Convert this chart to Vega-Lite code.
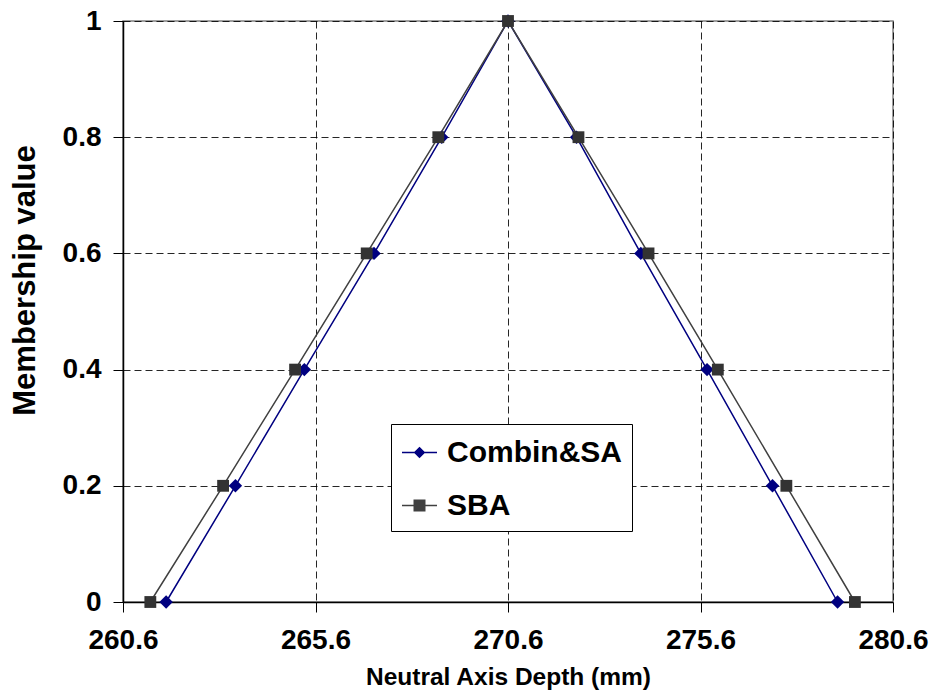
{
  "$schema": "https://vega.github.io/schema/vega-lite/v6.json",
  "width": 770,
  "height": 581,
  "autosize": {"type": "none"},
  "padding": {"left": 123, "top": 21, "right": 44, "bottom": 92},
  "background": "white",
  "config": {
    "font": "Liberation Sans",
    "view": {"stroke": "#808080", "strokeWidth": 1.5},
    "axis": {
      "labelFont": "Liberation Sans",
      "labelFontWeight": "bold",
      "labelFontSize": 28,
      "labelColor": "black",
      "titleFont": "Liberation Sans",
      "titleFontWeight": "bold",
      "titleColor": "black",
      "domainColor": "black",
      "domainWidth": 1.5,
      "tickColor": "black",
      "tickWidth": 1,
      "tickSize": 10,
      "gridColor": "black",
      "gridDash": [7, 4],
      "gridWidth": 1,
      "gridOpacity": 0.85
    },
    "legend": {
      "orient": "none",
      "legendX": 268,
      "legendY": 403,
      "fillColor": "white",
      "strokeColor": "black",
      "padding": 10,
      "labelFont": "Liberation Sans",
      "labelFontWeight": "bold",
      "labelFontSize": 30,
      "labelColor": "black",
      "labelLimit": 400,
      "symbolSize": 1225,
      "symbolOpacity": 1,
      "symbolStrokeWidth": 1.5,
      "rowPadding": 19,
      "labelOffset": 9
    }
  },
  "data": {
    "values": [
      {"series": "Combin&SA", "i": 0, "depth": 261.72, "mu": 0},
      {"series": "Combin&SA", "i": 1, "depth": 263.52, "mu": 0.2},
      {"series": "Combin&SA", "i": 2, "depth": 265.31, "mu": 0.4},
      {"series": "Combin&SA", "i": 3, "depth": 267.12, "mu": 0.6},
      {"series": "Combin&SA", "i": 4, "depth": 268.88, "mu": 0.8},
      {"series": "Combin&SA", "i": 5, "depth": 270.6, "mu": 1},
      {"series": "Combin&SA", "i": 6, "depth": 272.38, "mu": 0.8},
      {"series": "Combin&SA", "i": 7, "depth": 274.05, "mu": 0.6},
      {"series": "Combin&SA", "i": 8, "depth": 275.77, "mu": 0.4},
      {"series": "Combin&SA", "i": 9, "depth": 277.47, "mu": 0.2},
      {"series": "Combin&SA", "i": 10, "depth": 279.16, "mu": 0},
      {"series": "SBA", "i": 0, "depth": 261.31, "mu": 0},
      {"series": "SBA", "i": 1, "depth": 263.2, "mu": 0.2},
      {"series": "SBA", "i": 2, "depth": 265.07, "mu": 0.4},
      {"series": "SBA", "i": 3, "depth": 266.93, "mu": 0.6},
      {"series": "SBA", "i": 4, "depth": 268.79, "mu": 0.8},
      {"series": "SBA", "i": 5, "depth": 270.6, "mu": 1},
      {"series": "SBA", "i": 6, "depth": 272.43, "mu": 0.8},
      {"series": "SBA", "i": 7, "depth": 274.25, "mu": 0.6},
      {"series": "SBA", "i": 8, "depth": 276.05, "mu": 0.4},
      {"series": "SBA", "i": 9, "depth": 277.83, "mu": 0.2},
      {"series": "SBA", "i": 10, "depth": 279.61, "mu": 0}
    ]
  },
  "encoding": {
    "x": {
      "field": "depth", "type": "quantitative",
      "scale": {"domain": [260.6, 280.6], "nice": false, "zero": false},
      "axis": {
        "title": "Neutral Axis Depth (mm)",
        "titleFontSize": 24.5,
        "values": [260.6, 265.6, 270.6, 275.6, 280.6],
        "format": ".1f",
        "labelPadding": 14,
        "titlePadding": 11,
        "labelFlush": false
      }
    },
    "y": {
      "field": "mu", "type": "quantitative",
      "scale": {"domain": [0, 1], "nice": false},
      "axis": {
        "title": "Membership value",
        "titleFontSize": 31,
        "titleY": 259,
        "values": [0, 0.2, 0.4, 0.6, 0.8, 1],
        "format": "~g",
        "labelPadding": 12,
        "titlePadding": 21,
        "labelFlush": false
      }
    }
  },
  "layer": [
    {
      "mark": {"type": "line", "strokeWidth": 1.5},
      "encoding": {
        "stroke": {
          "field": "series", "type": "nominal",
          "scale": {"domain": ["Combin&SA", "SBA"], "range": ["#000080", "#404040"]},
          "legend": {"title": null}
        },
        "order": {"field": "i", "type": "quantitative"},
        "detail": {"field": "series"}
      }
    },
    {
      "transform": [{"filter": "datum.series === 'Combin&SA'"}],
      "mark": {"type": "point", "shape": "diamond", "filled": true, "size": 180, "color": "#000080", "opacity": 1}
    },
    {
      "transform": [{"filter": "datum.series === 'SBA'"}],
      "mark": {"type": "point", "shape": "square", "filled": true, "size": 140, "color": "#333333", "opacity": 1}
    },
    {
      "mark": {"type": "point", "filled": true, "fillOpacity": 0},
      "encoding": {
        "fill": {
          "field": "series", "type": "nominal",
          "scale": {"domain": ["Combin&SA", "SBA"], "range": ["#000080", "#404040"]},
          "legend": {"title": null}
        },
        "shape": {
          "field": "series", "type": "nominal",
          "scale": {
            "domain": ["Combin&SA", "SBA"],
            "range": [
              "M-1,0H1M0,-0.27L0.27,0L0,0.27L-0.27,0Z",
              "M-1,0H1M-0.3,-0.3H0.3V0.3H-0.3Z"
            ]
          },
          "legend": {"title": null}
        }
      }
    }
  ]
}
